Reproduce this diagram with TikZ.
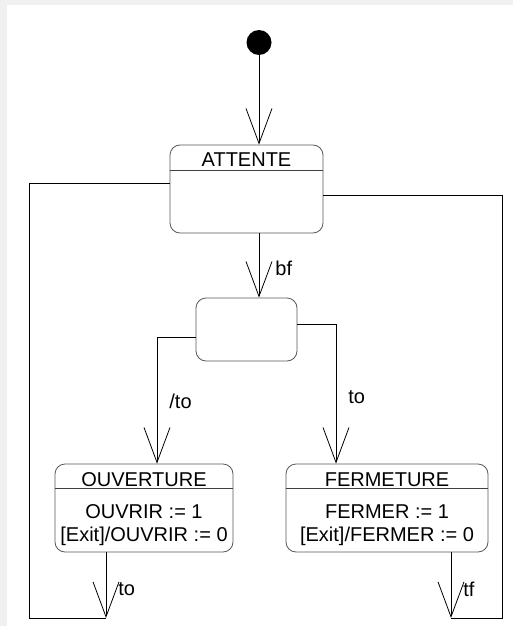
\documentclass[tikz,border=0pt]{standalone}
\usepackage{fontspec}
\setmainfont{Liberation Sans}
\usetikzlibrary{arrows.meta}

\begin{document}
\begin{tikzpicture}[
  x=1pt, y=-1pt, line width=0.8pt,
  every node/.style={inner sep=0pt, font=\fontsize{20}{23}\selectfont},
  etat/.style={draw=black!65, rounded corners=10pt, minimum height=88pt},
  sep/.style={draw=black!75},
  trans/.style={-{Straight Barb[length=35pt, width=26pt]}},
  debut/.style={circle, fill=black, minimum size=25pt},
  lbl/.style={anchor=base west},
]
  % fond gris clair en haut et a gauche
  \fill[black!6] (0,0) rectangle (513,626);
  \fill[white] (7,5) rectangle (513,626);
  \useasboundingbox (0,0) rectangle (513,626);

  % etats
  \node[debut] (init) at (259,42.5) {};
  \node[etat, minimum width=153pt] (attente) at (246.5,189) {};
  \node[etat, minimum width=101pt, minimum height=63pt] (choix) at (246.5,329.5) {};
  \node[etat, minimum width=178pt] (ouverture) at (144,508) {};
  \node[etat, minimum width=202pt] (fermeture) at (387,508) {};

  \draw[sep] ([yshift=-26pt]attente.north west) -- ([yshift=-26pt]attente.north east);
  \draw[sep] ([yshift=-25pt]ouverture.north west) -- ([yshift=-25pt]ouverture.north east);
  \draw[sep] ([yshift=-25pt]fermeture.north west) -- ([yshift=-25pt]fermeture.north east);

  \node[anchor=base] (attente-nom) at (246.5,166) {ATTENTE};
  \node[anchor=base] (ouverture-nom) at (144,486) {OUVERTURE};
  \node[anchor=base] (ouverture-l1) at (144,518) {OUVRIR := 1};
  \node[anchor=base] (ouverture-l2) at (144,541) {[Exit]/OUVRIR := 0};
  \node[anchor=base] (fermeture-nom) at (387,486) {FERMETURE};
  \node[anchor=base] (fermeture-l1) at (387,518) {FERMER := 1};
  \node[anchor=base] (fermeture-l2) at (387,541) {[Exit]/FERMER := 0};

  % points de passage des transitions
  \coordinate (g) at (157,337);
  \coordinate (d) at (336,324);
  \coordinate (ouv-out) at (106,618);
  \coordinate (l-bas) at (29,618);
  \coordinate (l-haut) at (29,183);
  \coordinate (fer-out) at (451,618);
  \coordinate (r-bas) at (502,618);
  \coordinate (r-haut) at (502,195);

  \draw[trans] (init) -- (attente.north -| init);
  \draw[trans] (attente.south -| init) -- (choix.north -| init);
  \draw[trans] (choix.west |- g) -- (g) -- (ouverture.north -| g);
  \draw[trans] (choix.east |- d) -- (d) -- (fermeture.north -| d);
  \draw[trans] (ouverture.south -| ouv-out) -- (ouv-out);
  \draw (ouv-out) -- (l-bas) -- (l-haut) -- (attente.west |- l-haut);
  \draw[trans] (fermeture.south -| fer-out) -- (fer-out);
  \draw (fer-out) -- (r-bas) -- (r-haut) -- (attente.east |- r-haut);

  % etiquettes
  \node[lbl] (lbl-bf) at (275,275) {bf};
  \node[lbl] (lbl-to1) at (169,408) {/to};
  \node[lbl] (lbl-to2) at (348,403) {to};
  \node[lbl] (lbl-to3) at (118,595) {to};
  \node[lbl] (lbl-tf) at (463,596) {tf};
\end{tikzpicture}
\end{document}
